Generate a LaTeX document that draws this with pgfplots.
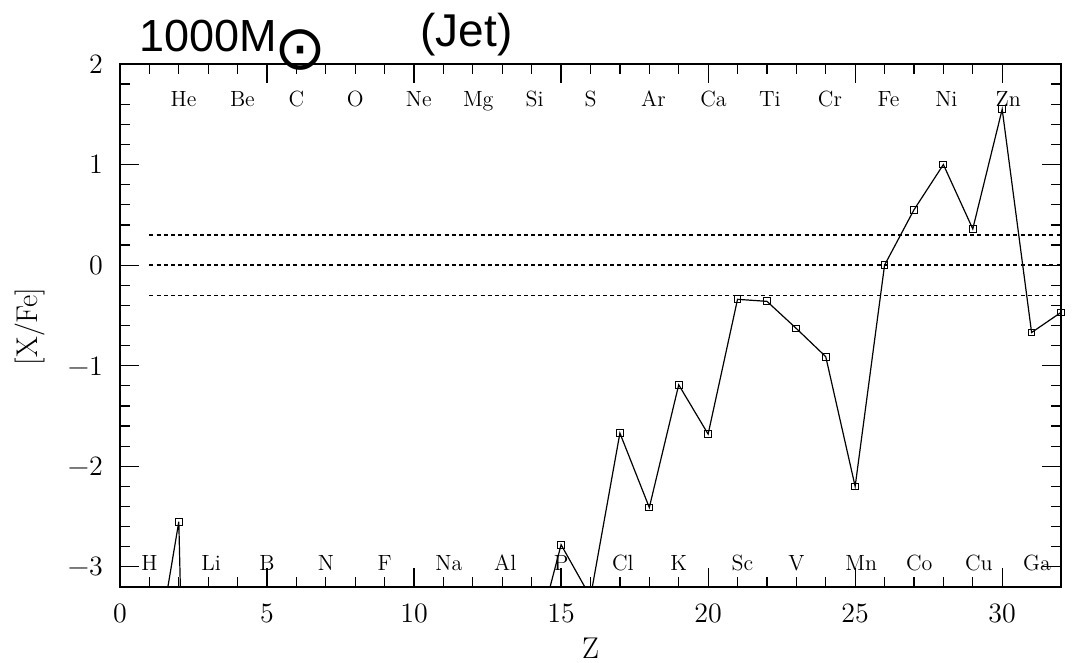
\documentclass[border=0pt]{standalone}
\usepackage{fontspec}
\usepackage{pgfplots}
\pgfplotsset{compat=1.18}
\newfontfamily\headfont{Liberation Sans}
\newfontfamily\symfont{DejaVu Sans}

% element label: first letter centred on the anchor, rest trailing to the right
\newlength\elw
\newcommand\el[2]{\settowidth\elw{#1}\hspace*{-0.5\elw}\rlap{#1#2}\hspace*{0.5\elw}}

\begin{document}
\begin{tikzpicture}
\begin{axis}[
  name=ax,
  scale only axis,
  width=470.5pt, height=261.5pt,
  xmin=0, xmax=32, ymin=-3.2, ymax=2,
  xtick={0,5,...,30}, ytick={-3,-2,...,2},
  xticklabels={0,5,10,15,20,25,30},
  yticklabels={−3,−2,−1,0,1,2},
  minor x tick num=4, minor y tick num=4,
  tick align=inside,
  xtick pos=both, ytick pos=both,
  xticklabel pos=lower, yticklabel pos=left,
  major tick length=9.5pt, minor tick length=5pt,
  axis line style={line width=0.7pt},
  every tick/.style={black, line width=0.6pt},
  tick label style={font=\fontsize{14}{16}\selectfont},
  xticklabel style={yshift=-5pt},
  yticklabel style={xshift=-5pt},
  xlabel={Z}, ylabel={[X/Fe]},
  label style={font=\fontsize{15}{17}\selectfont},
  xlabel style={at={(rel axis cs:0.5,-0.1175)}, anchor=center},
  ylabel style={at={(rel axis cs:-0.0956,0.498)}, anchor=center},
]
% solar band
\addplot[black, line width=0.8pt, dash pattern=on 2pt off 1.6pt] coordinates {(1,0.3) (32,0.3)};
\addplot[black, line width=0.8pt, dash pattern=on 2pt off 1.6pt] coordinates {(1,0) (32,0)};
\addplot[black, line width=0.8pt, dash pattern=on 2pt off 1.6pt] coordinates {(1,-0.3) (32,-0.3)};

% abundance pattern, Z = 1 ... 32
\addplot[black, line width=0.6pt, mark=square, mark size=1.7pt,
  mark options={line width=0.5pt, solid}] coordinates {
  (1,-4.3) (2,-2.55) (3,-15) (4,-14) (5,-12) (6,-8) (7,-9) (8,-6)
  (9,-8) (10,-6) (11,-6) (12,-5) (13,-5.5) (14,-3.9) (15,-2.78) (16,-3.3)
  (17,-1.67) (18,-2.41) (19,-1.19) (20,-1.68) (21,-0.34) (22,-0.36)
  (23,-0.63) (24,-0.91) (25,-2.20) (26,0.0) (27,0.55) (28,1.00)
  (29,0.36) (30,1.55) (31,-0.67) (32,-0.47)
};

% element names
\begin{scope}[every node/.style={anchor=base, inner sep=0pt, font=\fontsize{11}{13}\selectfont}]
\node at (axis cs:2,1.58)  {\el{H}{e}};
\node at (axis cs:4,1.58)  {\el{B}{e}};
\node at (axis cs:6,1.58)  {\el{C}{}};
\node at (axis cs:8,1.58)  {\el{O}{}};
\node at (axis cs:10,1.58) {\el{N}{e}};
\node at (axis cs:12,1.58) {\el{M}{g}};
\node at (axis cs:14,1.58) {\el{S}{i}};
\node at (axis cs:16,1.58) {\el{S}{}};
\node at (axis cs:18,1.58) {\el{A}{r}};
\node at (axis cs:20,1.58) {\el{C}{a}};
\node at (axis cs:22,1.58) {\el{T}{i}};
\node at (axis cs:24,1.58) {\el{C}{r}};
\node at (axis cs:26,1.58) {\el{F}{e}};
\node at (axis cs:28,1.58) {\el{N}{i}};
\node at (axis cs:30,1.58) {\el{Z}{n}};
\node at (axis cs:1,-3.04)  {\el{H}{}};
\node at (axis cs:3,-3.04)  {\el{L}{i}};
\node at (axis cs:5,-3.04)  {\el{B}{}};
\node at (axis cs:7,-3.04)  {\el{N}{}};
\node at (axis cs:9,-3.04)  {\el{F}{}};
\node at (axis cs:11,-3.04) {\el{N}{a}};
\node at (axis cs:13,-3.04) {\el{A}{l}};
\node at (axis cs:15,-3.04) {\el{P}{}};
\node at (axis cs:17,-3.04) {\el{C}{l}};
\node at (axis cs:19,-3.04) {\el{K}{}};
\node at (axis cs:21,-3.04) {\el{S}{c}};
\node at (axis cs:23,-3.04) {\el{V}{}};
\node at (axis cs:25,-3.04) {\el{M}{n}};
\node at (axis cs:27,-3.04) {\el{C}{o}};
\node at (axis cs:29,-3.04) {\el{C}{u}};
\node at (axis cs:31,-3.04) {\el{G}{a}};
\end{scope}
\end{axis}

% heading
\node[anchor=base west, inner sep=0pt, font=\headfont\fontsize{22.5}{27}\selectfont]
  at ([xshift=9.5pt, yshift=6pt]ax.north west) {1000M};
\node[anchor=center, inner sep=0pt, font=\symfont\fontsize{31}{36}\selectfont]
  at ([xshift=90pt, yshift=7pt]ax.north west) {⊙};
\node[anchor=base west, inner sep=0pt, font=\headfont\fontsize{23}{27}\selectfont]
  at ([xshift=150pt, yshift=8.5pt]ax.north west) {(Jet)};

\pgfresetboundingbox
\path[use as bounding box] ([shift={(-60pt,-38pt)}]ax.south west)
  rectangle ([shift={(476pt,293.5pt)}]ax.south west);
\end{tikzpicture}
\end{document}
